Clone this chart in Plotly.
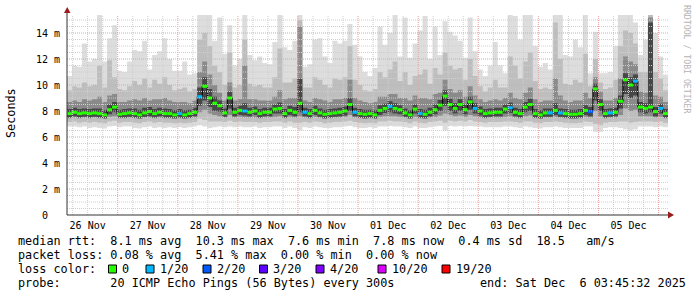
import plotly.graph_objects as go
from datetime import datetime, timedelta

# ---------------- data ----------------
START = datetime(2025, 11, 26, 3, 45, 32)
END = datetime(2025, 12, 6, 3, 45, 32)
STEP_HOURS = 2

median = [
    7.8, 7.9, 7.8, 7.85, 7.8, 7.85, 7.8, 7.7, 8.1, 8.3,
    7.75, 7.8, 7.85, 7.8, 7.7, 7.85, 7.95, 7.8, 7.9, 7.8,
    7.8, 7.7, 7.8, 7.7, 7.8, 7.9, 9.1, 9.9, 9.0, 8.6,
    8.4, 7.85, 9.0, 7.9, 8.05, 8.0, 7.9, 8.0, 7.8, 7.9,
    7.9, 8.15, 8.2, 7.8, 8.05, 7.9, 8.6, 7.9, 7.8, 8.05,
    7.85, 7.75, 7.8, 7.85, 7.9, 8.0, 8.5, 7.9, 7.8, 7.75,
    7.8, 7.7, 8.05, 8.2, 8.35, 8.2, 8.1, 7.85, 7.7, 8.15,
    7.8, 7.75, 7.9, 8.1, 8.45, 9.15, 8.5, 8.2, 8.5, 8.1,
    8.7, 8.2, 8.0, 7.8, 7.85, 7.9, 7.9, 8.15, 8.25, 7.9,
    7.8, 8.3, 8.5, 7.8, 7.7, 7.85, 7.85, 8.05, 7.85, 7.8,
    7.75, 7.75, 7.8, 8.05, 7.95, 9.7, 8.5, 7.8, 7.85, 7.9,
    8.75, 10.4, 10.0, 10.3, 8.3, 8.2, 8.3, 7.95, 8.2, 7.8,
]

loss = [
    0, 0, 0, 0, 0, 0, 0, 0, 0, 0,
    0, 0, 0, 0, 0, 0, 0, 0, 0, 0,
    0, 0, 1, 0, 0, 0, 1, 0, 0, 0,
    0, 0, 0, 0, 0, 1, 0, 0, 0, 0,
    0, 0, 0, 0, 0, 0, 0, 1, 0, 0,
    0, 0, 0, 0, 0, 0, 0, 1, 0, 0,
    0, 0, 0, 0, 1, 0, 0, 0, 0, 0,
    1, 0, 0, 0, 0, 0, 0, 0, 0, 0,
    0, 1, 0, 0, 0, 0, 0, 0, 1, 0,
    0, 0, 0, 0, 0, 0, 1, 0, 1, 0,
    0, 0, 0, 0, 2, 0, 0, 0, 1, 0,
    0, 0, 0, 1, 0, 0, 0, 0, 1, 0,
]

rtt_max = [
    10.7, 11.5, 11.4, 13.2, 11.8, 12.0, 15.4, 11.8, 13.6, 14.6,
    11.1, 11.0, 11.8, 12.7, 12.6, 13.4, 11.2, 12.3, 12.6, 13.6,
    12.0, 11.1, 11.1, 11.8, 10.8, 10.9, 15.4, 15.4, 15.4, 13.4,
    15.2, 12.4, 14.6, 11.5, 12.0, 15.4, 12.3, 11.9, 12.2, 11.7,
    11.6, 13.3, 15.4, 12.9, 12.7, 13.4, 15.4, 11.4, 11.6, 13.5,
    13.6, 12.2, 11.7, 13.4, 13.2, 13.4, 14.7, 13.1, 12.2, 11.0,
    10.7, 11.3, 14.5, 13.1, 14.0, 15.4, 12.2, 15.2, 12.1, 13.2,
    14.2, 15.3, 12.0, 14.5, 12.3, 14.9, 14.1, 13.8, 13.4, 12.1,
    15.2, 12.6, 11.2, 10.7, 11.5, 13.3, 11.5, 10.9, 15.4, 15.3,
    13.5, 15.4, 15.4, 13.0, 11.4, 11.7, 11.2, 15.4, 15.4, 12.3,
    12.2, 13.5, 12.9, 15.4, 10.9, 14.1, 10.9, 10.9, 11.0, 13.0,
    15.4, 15.4, 15.4, 14.8, 12.3, 13.5, 15.4, 14.0, 12.2, 10.8,
]

rtt_p90 = [
    9.6, 9.9, 9.8, 10.2, 9.9, 10.0, 11.5, 9.8, 11.9, 10.6,
    9.7, 9.6, 9.9, 10.3, 10.0, 10.5, 9.8, 10.4, 10.1, 10.6,
    10.0, 9.6, 9.7, 9.8, 9.5, 9.7, 13.5, 14.0, 13.0, 11.5,
    11.0, 10.0, 12.5, 9.8, 10.0, 13.5, 10.1, 9.9, 10.0, 9.8,
    9.8, 10.6, 12.8, 10.2, 10.2, 10.5, 15.0, 9.8, 9.8, 10.6,
    10.4, 10.0, 9.8, 10.5, 10.4, 10.6, 13.0, 10.4, 10.0, 9.6,
    9.5, 9.7, 11.0, 10.6, 11.2, 11.8, 10.3, 11.0, 10.0, 10.7,
    10.8, 11.2, 10.1, 11.3, 10.8, 12.5, 11.5, 11.2, 11.3, 10.4,
    12.0, 10.7, 9.9, 9.5, 9.8, 10.4, 9.8, 9.8, 12.2, 11.5,
    10.5, 11.8, 12.5, 10.3, 9.7, 9.8, 9.7, 14.8, 12.0, 10.1,
    10.0, 10.4, 10.2, 12.4, 9.9, 12.0, 10.2, 9.7, 9.8, 10.4,
    13.0, 14.2, 14.0, 13.2, 11.0, 11.0, 15.4, 11.0, 10.5, 9.6,
]

rtt_p75 = [
    8.7, 8.8, 8.7, 8.9, 8.8, 8.9, 9.1, 8.7, 9.2, 9.3,
    8.7, 8.7, 8.8, 8.9, 8.8, 9.0, 8.8, 8.9, 8.9, 9.0,
    8.8, 8.7, 8.7, 8.7, 8.6, 8.8, 11.0, 11.8, 10.8, 10.0,
    9.4, 8.8, 10.2, 8.8, 8.9, 11.5, 8.9, 8.9, 8.8, 8.8,
    8.8, 9.1, 9.6, 8.9, 9.0, 9.0, 14.5, 8.8, 8.7, 9.0,
    8.9, 8.8, 8.7, 8.9, 8.9, 9.0, 10.4, 9.0, 8.8, 8.7,
    8.6, 8.7, 9.1, 9.1, 9.3, 9.3, 9.0, 9.0, 8.8, 9.2,
    9.0, 9.0, 8.9, 9.3, 9.4, 10.4, 9.7, 9.4, 9.6, 9.1,
    9.9, 9.2, 8.9, 8.7, 8.8, 8.9, 8.8, 9.0, 9.4, 9.0,
    8.9, 9.4, 9.8, 8.9, 8.7, 8.8, 8.8, 10.5, 9.2, 8.8,
    8.7, 8.8, 8.8, 9.4, 9.0, 10.6, 9.5, 8.8, 8.8, 9.0,
    10.5, 12.2, 11.8, 11.6, 9.5, 9.4, 15.2, 9.2, 9.1, 8.7,
]

rtt_p60 = [
    8.15, 8.25, 8.15, 8.2, 8.15, 8.2, 8.2, 8.05, 8.5, 8.7,
    8.1, 8.15, 8.2, 8.2, 8.1, 8.25, 8.3, 8.15, 8.25, 8.2,
    8.15, 8.05, 8.15, 8.05, 8.1, 8.25, 9.8, 10.6, 9.7, 9.1,
    8.8, 8.2, 9.5, 8.25, 8.4, 8.6, 8.25, 8.35, 8.15, 8.25,
    8.25, 8.5, 8.65, 8.15, 8.4, 8.3, 10.5, 8.25, 8.15, 8.4,
    8.2, 8.1, 8.15, 8.2, 8.25, 8.35, 9.0, 8.25, 8.15, 8.1,
    8.1, 8.05, 8.45, 8.55, 8.75, 8.6, 8.45, 8.2, 8.05, 8.5,
    8.15, 8.1, 8.25, 8.5, 8.85, 9.6, 8.95, 8.6, 8.9, 8.5,
    9.1, 8.6, 8.35, 8.15, 8.2, 8.25, 8.25, 8.5, 8.65, 8.25,
    8.15, 8.7, 8.95, 8.15, 8.05, 8.2, 8.2, 8.6, 8.2, 8.15,
    8.1, 8.1, 8.15, 8.45, 8.3, 10.1, 8.9, 8.15, 8.2, 8.25,
    9.2, 10.9, 10.6, 10.8, 8.7, 8.6, 14.8, 8.3, 8.55, 8.15,
]

rtt_p40 = [
    7.5, 7.6, 7.5, 7.55, 7.5, 7.55, 7.5, 7.45, 7.75, 7.9,
    7.5, 7.5, 7.55, 7.5, 7.45, 7.55, 7.6, 7.5, 7.6, 7.5,
    7.5, 7.45, 7.5, 7.45, 7.5, 7.6, 8.4, 8.8, 8.3, 8.0,
    7.95, 7.55, 8.2, 7.6, 7.7, 7.65, 7.6, 7.7, 7.5, 7.6,
    7.6, 7.8, 7.8, 7.5, 7.7, 7.6, 7.9, 7.6, 7.5, 7.7,
    7.55, 7.45, 7.5, 7.55, 7.6, 7.65, 8.0, 7.6, 7.5, 7.45,
    7.5, 7.45, 7.7, 7.85, 7.9, 7.8, 7.75, 7.55, 7.45, 7.8,
    7.5, 7.45, 7.6, 7.75, 8.0, 8.4, 8.0, 7.8, 8.0, 7.75,
    8.1, 7.8, 7.65, 7.5, 7.55, 7.6, 7.6, 7.8, 7.85, 7.6,
    7.5, 7.9, 8.0, 7.5, 7.45, 7.55, 7.55, 7.7, 7.55, 7.5,
    7.45, 7.45, 7.5, 7.7, 7.6, 8.8, 8.0, 7.5, 7.55, 7.6,
    8.2, 9.3, 9.0, 9.2, 7.9, 7.8, 7.9, 7.6, 7.8, 7.5,
]

rtt_p25 = [
    7.45, 7.5, 7.45, 7.5, 7.45, 7.5, 7.45, 7.4, 7.55, 7.6,
    7.45, 7.45, 7.5, 7.45, 7.4, 7.5, 7.5, 7.45, 7.5, 7.45,
    7.45, 7.4, 7.45, 7.4, 7.45, 7.5, 7.9, 8.1, 7.8, 7.7,
    7.6, 7.5, 7.7, 7.5, 7.55, 7.5, 7.5, 7.5, 7.45, 7.5,
    7.5, 7.55, 7.6, 7.45, 7.55, 7.5, 7.6, 7.5, 7.45, 7.55,
    7.5, 7.4, 7.45, 7.5, 7.5, 7.55, 7.7, 7.5, 7.45, 7.4,
    7.45, 7.4, 7.55, 7.6, 7.6, 7.6, 7.55, 7.5, 7.4, 7.55,
    7.45, 7.4, 7.5, 7.55, 7.65, 7.8, 7.7, 7.6, 7.65, 7.55,
    7.7, 7.6, 7.5, 7.45, 7.5, 7.5, 7.5, 7.55, 7.6, 7.5,
    7.45, 7.6, 7.65, 7.45, 7.4, 7.5, 7.5, 7.55, 7.5, 7.45,
    7.4, 7.4, 7.45, 7.55, 7.5, 8.0, 7.6, 7.45, 7.5, 7.5,
    7.7, 8.2, 8.0, 8.1, 7.6, 7.6, 7.6, 7.5, 7.55, 7.45,
]

rtt_p10 = [
    7.15, 7.2, 7.1, 7.15, 7.1, 7.15, 7.1, 7.05, 7.2, 7.25,
    7.1, 7.15, 7.15, 7.1, 7.05, 7.15, 7.2, 7.1, 7.15, 7.1,
    7.1, 7.05, 7.1, 7.05, 7.1, 7.15, 7.4, 7.3, 7.2, 7.2,
    7.2, 7.15, 7.25, 7.15, 7.2, 7.15, 7.15, 7.15, 7.1, 7.15,
    7.15, 7.2, 7.2, 7.1, 7.2, 7.1, 7.1, 7.15, 7.1, 7.2,
    7.15, 7.05, 7.1, 7.15, 7.15, 7.2, 7.25, 7.15, 7.1, 7.05,
    7.1, 7.05, 7.2, 7.2, 7.25, 7.2, 7.2, 7.15, 7.05, 7.2,
    7.1, 7.05, 7.15, 7.2, 7.25, 7.1, 7.25, 7.2, 7.25, 7.2,
    7.3, 7.2, 7.15, 7.1, 7.15, 7.15, 7.15, 7.2, 7.2, 7.15,
    7.1, 7.2, 7.2, 7.1, 7.05, 7.15, 7.15, 7.2, 7.15, 7.1,
    7.05, 7.05, 7.1, 7.2, 7.15, 7.0, 6.9, 7.1, 7.15, 7.15,
    7.2, 7.2, 7.1, 7.15, 7.2, 7.2, 7.2, 7.15, 7.2, 7.1,
]

rtt_min = [
    6.8, 6.8, 6.75, 6.8, 6.7, 6.75, 6.7, 6.65, 6.8, 6.85,
    6.75, 6.8, 6.8, 6.7, 6.65, 6.75, 6.8, 6.7, 6.75, 6.7,
    6.75, 6.7, 6.75, 6.7, 6.75, 6.8, 6.9, 6.8, 6.7, 6.75,
    6.8, 6.75, 6.8, 6.75, 6.8, 6.75, 6.75, 6.8, 6.7, 6.75,
    6.75, 6.8, 6.8, 6.7, 6.8, 6.7, 6.5, 6.75, 6.7, 6.8,
    6.75, 6.7, 6.7, 6.75, 6.75, 6.8, 6.85, 6.75, 6.7, 6.7,
    6.75, 6.7, 6.8, 6.8, 6.85, 6.8, 6.8, 6.75, 6.7, 6.8,
    6.7, 6.7, 6.75, 6.8, 6.85, 6.5, 6.85, 6.8, 6.85, 6.8,
    6.85, 6.8, 6.8, 6.75, 6.75, 6.75, 6.75, 6.8, 6.8, 6.75,
    6.7, 6.8, 6.75, 6.7, 6.65, 6.75, 6.75, 6.8, 6.75, 6.7,
    6.7, 6.7, 6.7, 6.8, 6.8, 6.4, 6.4, 6.7, 6.75, 6.75,
    6.7, 6.6, 6.5, 6.6, 6.8, 6.8, 6.8, 6.75, 6.8, 6.75,
]

day_labels = ["26 Nov", "27 Nov", "28 Nov", "29 Nov", "30 Nov",
              "01 Dec", "02 Dec", "03 Dec", "04 Dec", "05 Dec"]
ytick_vals = [0, 2, 4, 6, 8, 10, 12, 14]
ytick_text = ["0  ", "2 m", "4 m", "6 m", "8 m", "10 m", "12 m", "14 m"]
loss_levels = [0, 1, 2, 3, 4, 10, 19]
loss_labels = ["0", "1/20", "2/20", "3/20", "4/20", "10/20", "19/20"]
loss_colors = ["#26ff00", "#00b8ff", "#0059ff", "#5e00ff", "#7e00ff", "#dd00ff", "#ff0000"]

legend_lines = [
    "median rtt:  8.1 ms avg  10.3 ms max  7.6 ms min  7.8 ms now  0.4 ms sd  18.5   am/s",
    "packet loss: 0.08 % avg  5.41 % max  0.00 % min  0.00 % now",
    "loss color:",
    "probe:       20 ICMP Echo Pings (56 Bytes) every 300s",
]
end_text = "end: Sat Dec  6 03:45:32 2025"

# ---------------- layout geometry (pixels) ----------------
W, H = 697, 297
L, R, T, B = 67, 668, 15, 215
MONO = "DejaVu Sans Mono"
YMAX = 200 / 13.0


def px(x):
    return (x - L) / (R - L)


def py(y):
    return (B - y) / (B - T)


times = [START + timedelta(hours=STEP_HOURS * k) for k in range(len(median))] + [END]


def closed(a):
    return list(a) + [a[-1]]


fig = go.Figure()

bands = [
    (rtt_min, rtt_max, "#dddddd"),
    (rtt_p10, rtt_p90, "#bebebe"),
    (rtt_p25, rtt_p75, "#8a8a8a"),
    (rtt_p40, rtt_p60, "#474747"),
]
for lo, hi, col in bands:
    fig.add_trace(go.Scatter(x=times, y=closed(lo), mode="lines",
                             line=dict(width=0, shape="hv"),
                             hoverinfo="skip", showlegend=False))
    fig.add_trace(go.Scatter(x=times, y=closed(hi), mode="lines",
                             line=dict(width=0, shape="hv"),
                             fill="tonexty", fillcolor=col,
                             hoverinfo="skip", showlegend=False))

fig.add_trace(go.Scatter(x=times, y=closed(median), mode="lines",
                         line=dict(color="#000000", width=1, shape="hv"),
                         hoverinfo="skip", showlegend=False))

for lvl, col in zip(loss_levels, loss_colors):
    xs, ys = [], []
    for k, (m, l) in enumerate(zip(median, loss)):
        if l == lvl:
            xs += [times[k], times[k + 1], None]
            ys += [m, m, None]
    if xs:
        fig.add_trace(go.Scatter(x=xs, y=ys, mode="lines",
                                 line=dict(color=col, width=3),
                                 hoverinfo="skip", showlegend=False))

shapes = []
# vertical grid: every 6 h, red at midnight
t = datetime(2025, 11, 26, 6, 0, 0)
while t <= END:
    major = (t.hour == 0)
    shapes.append(dict(type="line", xref="x", yref="paper", x0=t, x1=t, y0=0, y1=1,
                       layer="above",
                       line=dict(color="#e8a0a0" if major else "#cfcfcf", width=1, dash="1px,1px")))
    t += timedelta(hours=6)
# horizontal grid: every 0.5 m, red at labelled ticks
v = 0.5
while v <= 15.01:
    major = abs(v - round(v)) < 1e-9 and int(round(v)) % 2 == 0
    shapes.append(dict(type="line", xref="paper", yref="y", x0=0, x1=1, y0=v, y1=v,
                       layer="above",
                       line=dict(color="#e8a0a0" if major else "#cfcfcf", width=1, dash="1px,1px")))
    v += 0.5

# axes lines + arrows
AX = "#333333"
ARROW = "#9a1c1c"
shapes.append(dict(type="line", xref="paper", yref="paper", x0=0, x1=0, y0=0, y1=py(11),
                   layer="above", line=dict(color=AX, width=1)))
shapes.append(dict(type="line", xref="paper", yref="paper", x0=0, x1=px(670), y0=0, y1=0,
                   layer="above", line=dict(color=AX, width=1)))
shapes.append(dict(type="path", xref="paper", yref="paper", layer="above",
                   path=f"M {px(64)} {py(13)} L {px(70.5)} {py(13)} L {px(67.2)} {py(7)} Z",
                   fillcolor=ARROW, line=dict(width=0)))
shapes.append(dict(type="path", xref="paper", yref="paper", layer="above",
                   path=f"M {px(668)} {py(211.5)} L {px(668)} {py(218.5)} L {px(674)} {py(215)} Z",
                   fillcolor=ARROW, line=dict(width=0)))

annotations = []
annotations.append(dict(text="Seconds", xref="paper", yref="paper", x=px(11), y=py(113),
                        showarrow=False, textangle=-90, xanchor="center", yanchor="middle",
                        font=dict(family=MONO, size=11.8, color="#000000")))
annotations.append(dict(text="RRDTOOL / TOBI OETIKER", xref="paper", yref="paper",
                        x=px(687), y=py(59), showarrow=False, textangle=90,
                        xanchor="center", yanchor="middle",
                        font=dict(family=MONO, size=8.2, color="#b4b4b4")))
line_y = [241, 255, 269, 283]
for txt, yy in zip(legend_lines, line_y):
    annotations.append(dict(text=txt, xref="paper", yref="paper", x=px(16), y=py(yy),
                            showarrow=False, xanchor="left", yanchor="middle",
                            font=dict(family=MONO, size=11.8, color="#000000")))
annotations.append(dict(text=end_text, xref="paper", yref="paper", x=px(478), y=py(283),
                        showarrow=False, xanchor="left", yanchor="middle",
                        font=dict(family=MONO, size=11.8, color="#000000")))
box_left = [108.5, 146, 203, 259.5, 316, 378, 442]
for bx, lab, col in zip(box_left, loss_labels, loss_colors):
    shapes.append(dict(type="rect", xref="paper", yref="paper",
                       x0=px(bx), x1=px(bx + 8), y0=py(273), y1=py(265),
                       fillcolor=col, line=dict(color="#000000", width=1), layer="above"))
    annotations.append(dict(text=lab, xref="paper", yref="paper", x=px(bx + 11.5), y=py(269),
                            showarrow=False, xanchor="left", yanchor="middle",
                            font=dict(family=MONO, size=11.8, color="#000000")))

noon_ticks = [datetime(2025, 11, 26, 12) + timedelta(days=d) for d in range(len(day_labels))]

fig.update_layout(
    width=W, height=H,
    margin=dict(l=L, r=W - R, t=T, b=H - B, pad=0),
    paper_bgcolor="#ffffff", plot_bgcolor="#ffffff",
    showlegend=False,
    shapes=shapes, annotations=annotations,
    xaxis=dict(type="date", range=[START, END], showgrid=False, zeroline=False,
               showline=False, ticks="", tickvals=noon_ticks, ticktext=day_labels,
               ticklabelstandoff=3,
               tickfont=dict(family=MONO, size=10, color="#000000"), fixedrange=True),
    yaxis=dict(range=[0, YMAX], showgrid=False, zeroline=False, showline=False,
               ticks="", tickvals=ytick_vals, ticktext=ytick_text,
               ticklabelstandoff=6,
               tickfont=dict(family=MONO, size=10, color="#000000"), fixedrange=True),
)

fig.write_html("out.html")
